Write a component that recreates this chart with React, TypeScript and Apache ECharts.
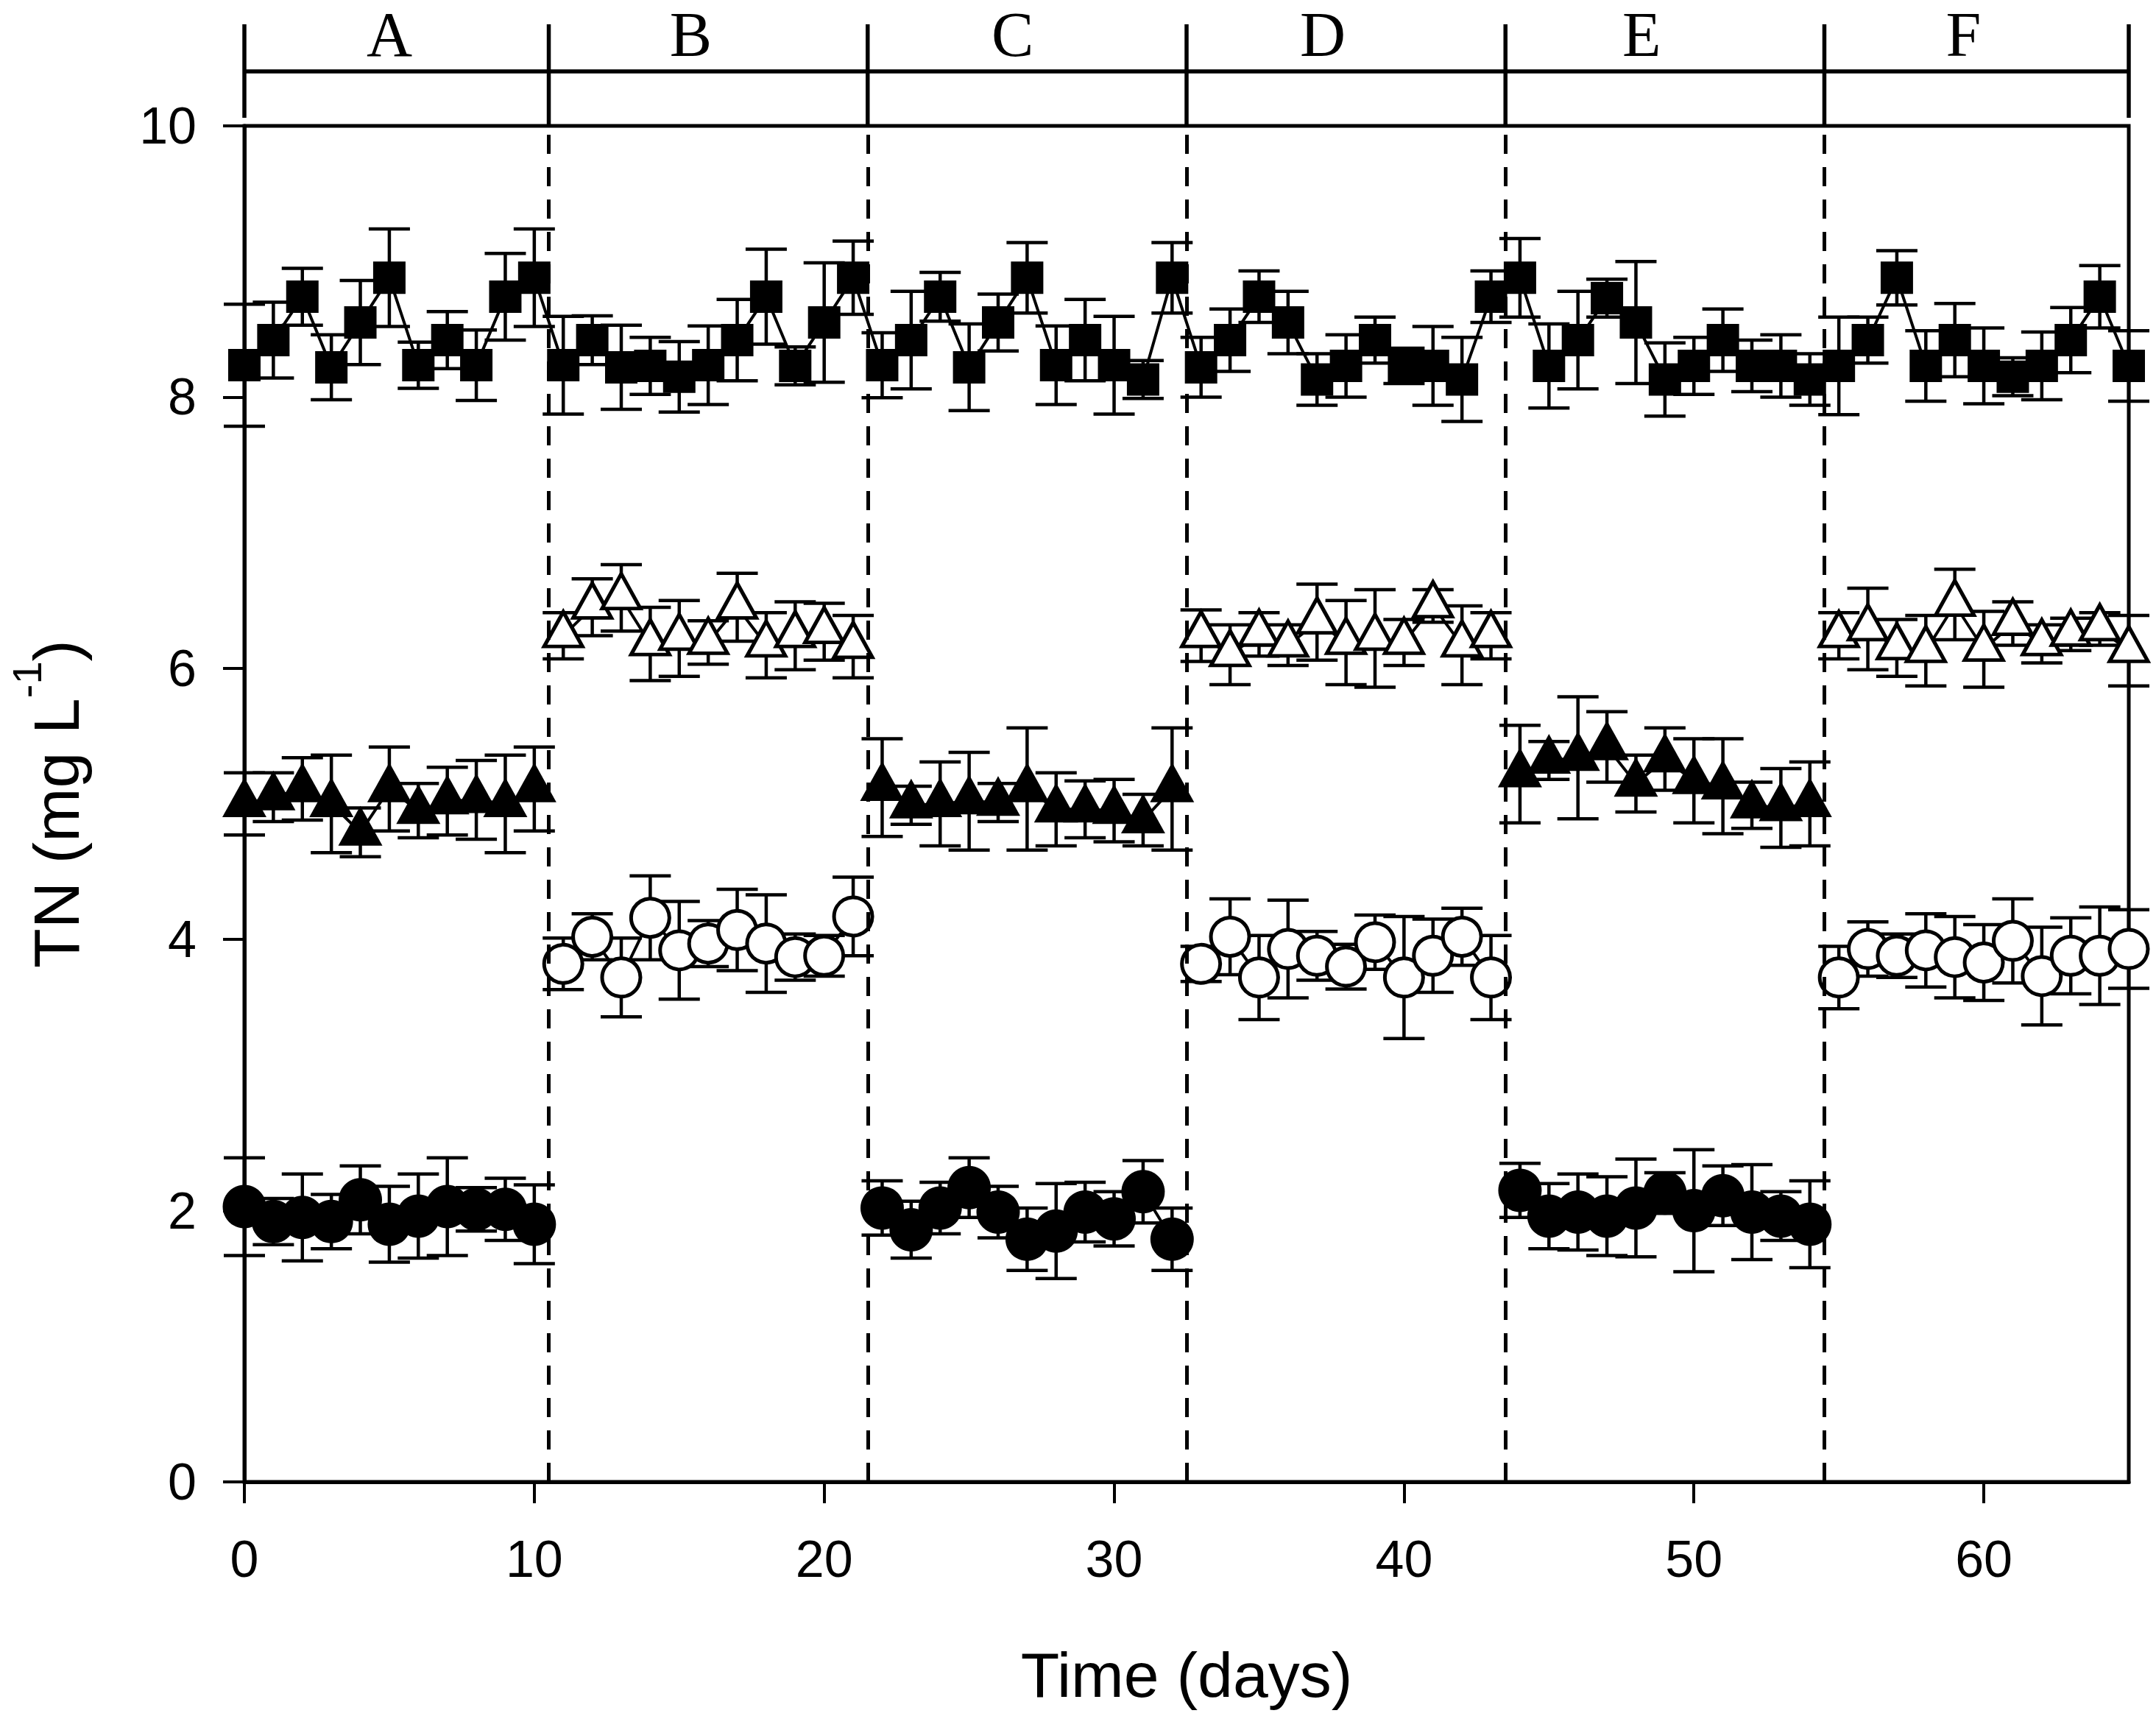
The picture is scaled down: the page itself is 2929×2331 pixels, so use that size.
import React, { useEffect, useRef } from "react";
import * as echarts from "echarts";

const FONT_SANS = "'Liberation Sans', Arial, Helvetica, sans-serif";
const FONT_SERIF = "'Liberation Serif', 'Times New Roman', Times, serif";

// axis / annotation definitions
const X_TICKS = [0, 10, 20, 30, 40, 50, 60];
const DIVIDERS = [10.5, 21.5, 32.5, 43.5, 54.5];
const PHASE_BOUNDS = [0, 10.5, 21.5, 32.5, 43.5, 54.5, 65];
const PHASE_LABELS = ["A", "B", "C", "D", "E", "F"];
const PHASE_LABEL_X = [5.0, 15.4, 26.5, 37.2, 48.2, 59.3];

const _ = null;

// index = day (0..65)
const squareMean = [
  8.235, 8.42, 8.74, 8.22, 8.55, 8.88, 8.235, 8.42, 8.235, 8.74, 8.88,
  8.235, 8.42, 8.22, 8.23, 8.15, 8.235, 8.42, 8.74, 8.23, 8.55, 8.88,
  8.235, 8.42, 8.74, 8.22, 8.55, 8.88, 8.235, 8.42, 8.235, 8.13, 8.88,
  8.22, 8.42, 8.74, 8.55, 8.13, 8.23, 8.42, 8.23, 8.23, 8.13, 8.74,
  8.88, 8.23, 8.42, 8.73, 8.55, 8.13, 8.23, 8.42, 8.23, 8.23, 8.13,
  8.23, 8.42, 8.88, 8.23, 8.42, 8.23, 8.15, 8.23, 8.42, 8.74, 8.23,
];
const squareErr = [
  0.45, 0.28, 0.21, 0.24, 0.31, 0.36, 0.17, 0.21, 0.26, 0.32, 0.36,
  0.36, 0.18, 0.31, 0.21, 0.26, 0.29, 0.3, 0.35, 0.14, 0.44, 0.27,
  0.24, 0.36, 0.18, 0.32, 0.21, 0.26, 0.29, 0.3, 0.36, 0.14, 0.26,
  0.22, 0.23, 0.19, 0.23, 0.19, 0.23, 0.17, 0.13, 0.29, 0.31, 0.19,
  0.29, 0.31, 0.36, 0.14, 0.45, 0.27, 0.21, 0.23, 0.19, 0.23, 0.19,
  0.36, 0.17, 0.2, 0.26, 0.27, 0.28, 0.14, 0.25, 0.24, 0.23, 0.26,
];

const openTriMean = [
  _, _, _, _, _, _, _, _, _, _, _,
  6.24, 6.45, 6.52, 6.18, 6.22, 6.19, 6.45, 6.17, 6.24, 6.27, 6.16,
  _, _, _, _, _, _, _, _, _, _, _,
  6.24, 6.1, 6.25, 6.17, 6.34, 6.19, 6.22, 6.19, 6.46, 6.17, 6.24,
  _, _, _, _, _, _, _, _, _, _, _,
  6.24, 6.29, 6.15, 6.13, 6.47, 6.14, 6.33, 6.18, 6.25, 6.29, 6.13,
];
const openTriErr = [
  _, _, _, _, _, _, _, _, _, _, _,
  0.17, 0.21, 0.245, 0.27, 0.28, 0.16, 0.25, 0.24, 0.25, 0.21, 0.23,
  _, _, _, _, _, _, _, _, _, _, _,
  0.19, 0.22, 0.16, 0.15, 0.28, 0.31, 0.36, 0.17, 0.12, 0.29, 0.17,
  _, _, _, _, _, _, _, _, _, _, _,
  0.17, 0.3, 0.21, 0.26, 0.26, 0.28, 0.16, 0.14, 0.12, 0.12, 0.26,
];

const filledTriMean = [
  5.0, 5.05, 5.11, 5.0, 4.79, 5.11, 4.95, 5.02, 5.03, 5.0, 5.11,
  _, _, _, _, _, _, _, _, _, _, _,
  5.12, 4.99, 5.0, 5.02, 5.01, 5.11, 4.96, 4.96, 4.95, 4.88, 5.11,
  _, _, _, _, _, _, _, _, _, _, _,
  5.22, 5.32, 5.34, 5.42, 5.15, 5.33, 5.17, 5.13, 4.99, 4.97, 5.0,
  _, _, _, _, _, _, _, _, _, _, _,
];
const filledTriErr = [
  0.23, 0.18, 0.23, 0.36, 0.18, 0.31, 0.2, 0.25, 0.29, 0.36, 0.31,
  _, _, _, _, _, _, _, _, _, _, _,
  0.36, 0.14, 0.31, 0.36, 0.14, 0.45, 0.27, 0.21, 0.23, 0.19, 0.45,
  _, _, _, _, _, _, _, _, _, _, _,
  0.36, 0.14, 0.45, 0.26, 0.21, 0.23, 0.31, 0.35, 0.17, 0.29, 0.31,
  _, _, _, _, _, _, _, _, _, _, _,
];

const openCircMean = [
  _, _, _, _, _, _, _, _, _, _, _,
  3.82, 4.02, 3.72, 4.16, 3.92, 3.97, 4.07, 3.97, 3.87, 3.88, 4.17,
  _, _, _, _, _, _, _, _, _, _, _,
  3.82, 4.02, 3.72, 3.93, 3.88, 3.8, 3.98, 3.72, 3.88, 4.02, 3.72,
  _, _, _, _, _, _, _, _, _, _, _,
  3.72, 3.93, 3.88, 3.92, 3.87, 3.83, 3.99, 3.73, 3.88, 3.88, 3.93,
];
const openCircErr = [
  _, _, _, _, _, _, _, _, _, _, _,
  0.19, 0.17, 0.29, 0.31, 0.36, 0.17, 0.3, 0.36, 0.17, 0.15, 0.29,
  _, _, _, _, _, _, _, _, _, _, _,
  0.13, 0.28, 0.31, 0.36, 0.18, 0.165, 0.2, 0.45, 0.27, 0.21, 0.31,
  _, _, _, _, _, _, _, _, _, _, _,
  0.23, 0.2, 0.16, 0.27, 0.3, 0.28, 0.31, 0.36, 0.28, 0.36, 0.29,
];

const filledCircMean = [
  2.03, 1.92, 1.95, 1.92, 2.08, 1.9, 1.96, 2.03, 2.01, 2.01, 1.9,
  _, _, _, _, _, _, _, _, _, _, _,
  2.02, 1.86, 2.02, 2.17, 1.99, 1.79, 1.85, 1.99, 1.94, 2.14, 1.79,
  _, _, _, _, _, _, _, _, _, _, _,
  2.15, 1.96, 1.99, 1.96, 2.02, 2.13, 2.0, 2.11, 1.99, 1.96, 1.9,
  _, _, _, _, _, _, _, _, _, _, _,
];
const filledCircErr = [
  0.36, 0.17, 0.32, 0.2, 0.25, 0.28, 0.31, 0.36, 0.16, 0.23, 0.29,
  _, _, _, _, _, _, _, _, _, _, _,
  0.2, 0.21, 0.19, 0.22, 0.19, 0.23, 0.35, 0.22, 0.2, 0.23, 0.23,
  _, _, _, _, _, _, _, _, _, _, _,
  0.2, 0.24, 0.28, 0.29, 0.36, 0.15, 0.45, 0.22, 0.35, 0.18, 0.32,
  _, _, _, _, _, _, _, _, _, _, _,
];

const GRID = { left: 323, top: 171, right: 37, bottom: 318 };

function lineData(mean: (number | null)[]) {
  return mean.map((v, i) => [i, v === null ? "-" : v]);
}
function errData(mean: (number | null)[], err: (number | null)[]) {
  const out: number[][] = [];
  mean.forEach((v, i) => {
    if (v !== null && err[i] !== null) out.push([i, v, err[i] as number]);
  });
  return out;
}

function errorBarItem(params: any, api: any) {
  const x = api.value(0);
  const y = api.value(1);
  const e = api.value(2);
  const top = api.coord([x, y + e]);
  const bot = api.coord([x, y - e]);
  const hw = 28;
  const style = { stroke: "#000", lineWidth: 4.5, fill: "none" };
  return {
    type: "group",
    children: [
      { type: "line", shape: { x1: top[0], y1: top[1], x2: bot[0], y2: bot[1] }, style },
      { type: "line", shape: { x1: top[0] - hw, y1: top[1], x2: top[0] + hw, y2: top[1] }, style },
      { type: "line", shape: { x1: bot[0] - hw, y1: bot[1], x2: bot[0] + hw, y2: bot[1] }, style },
    ],
  };
}

function errSeries(mean: (number | null)[], err: (number | null)[]) {
  return {
    type: "custom",
    renderItem: errorBarItem,
    data: errData(mean, err),
    encode: { x: 0, y: 1 },
    clip: false,
    silent: true,
    z: 2,
  };
}

function markerSeries(mean: (number | null)[], symbol: string, size: any, open: boolean, offset?: number[]) {
  return {
    type: "line",
    data: lineData(mean),
    connectNulls: false,
    symbol,
    symbolSize: size,
    symbolOffset: offset || [0, 0],
    showSymbol: true,
    showAllSymbol: true,
    clip: false,
    lineStyle: { color: "#000", width: 4 },
    itemStyle: open
      ? { color: "#fff", borderColor: "#000", borderWidth: 5 }
      : { color: "#000", borderColor: "#000", borderWidth: 0 },
    emphasis: { disabled: true },
    silent: true,
    z: 3,
  };
}

export default function App() {
  const ref = useRef<HTMLDivElement>(null);

  useEffect(() => {
    document.body.style.margin = "0";
    if (!ref.current) return;
    const chart = echarts.init(ref.current, undefined, { renderer: "svg" });

    const gridTop = GRID.top;

    const option: any = {
      animation: false,
      backgroundColor: "#fff",
      grid: {
        ...GRID,
        show: true,
        borderColor: "#000",
        borderWidth: 5,
        backgroundColor: "transparent",
      },
      xAxis: {
        type: "value",
        min: 0,
        max: 65,
        interval: 10,
        name: "Time (days)",
        nameLocation: "middle",
        nameGap: 219,
        nameTextStyle: { fontFamily: FONT_SANS, fontSize: 86, color: "#000" },
        axisLine: { show: true, onZero: false, lineStyle: { color: "#000", width: 5 } },
        axisTick: {
          show: true,
          inside: false,
          length: 29,
          lineStyle: { color: "#000", width: 4 },
          customValues: X_TICKS,
        },
        axisLabel: {
          fontFamily: FONT_SANS,
          fontSize: 70,
          color: "#000",
          margin: 70,
          customValues: X_TICKS,
        },
        splitLine: { show: false },
      },
      yAxis: {
        type: "value",
        min: 0,
        max: 10,
        interval: 2,
        name: "TN (mg L{sup|-1})",
        nameLocation: "middle",
        nameGap: 188,
        nameRotate: 90,
        nameTextStyle: {
          fontFamily: FONT_SANS,
          fontSize: 88,
          lineHeight: 136,
          color: "#000",
          rich: {
            sup: { fontFamily: FONT_SANS, fontSize: 56, lineHeight: 68, verticalAlign: "top", color: "#000" },
          },
        },
        axisLine: { show: true, onZero: false, lineStyle: { color: "#000", width: 5 } },
        axisTick: { show: true, inside: false, length: 29, lineStyle: { color: "#000", width: 4 } },
        axisLabel: { fontFamily: FONT_SANS, fontSize: 70, color: "#000", margin: 65 },
        splitLine: { show: false },
      },
      series: [
        // phase dividers
        {
          type: "line",
          data: [],
          silent: true,
          z: 1,
          markLine: {
            silent: true,
            symbol: ["none", "none"],
            label: { show: false },
            lineStyle: { color: "#000", width: 5, type: [26, 18] },
            emphasis: { disabled: true },
            data: DIVIDERS.map((x) => ({ xAxis: x })),
          },
        },
        // phase bracket above the plot
        {
          type: "custom",
          clip: false,
          silent: true,
          data: PHASE_BOUNDS.map((b) => [b, 10]),
          encode: { x: 0, y: 1 },
          renderItem: (params: any, api: any) => {
            const p = api.coord([api.value(0), 10]);
            const last = PHASE_BOUNDS.length - 1;
            const isEnd = params.dataIndex === 0 || params.dataIndex === last;
            const style = { stroke: "#000", lineWidth: 5.5 };
            const children: any[] = [
              {
                type: "line",
                shape: { x1: p[0], y1: gridTop - 138, x2: p[0], y2: isEnd ? gridTop - 11 : gridTop },
                style,
              },
            ];
            if (params.dataIndex === 0) {
              const a = api.coord([PHASE_BOUNDS[0], 10]);
              const b = api.coord([PHASE_BOUNDS[last], 10]);
              children.push({
                type: "line",
                shape: { x1: a[0], y1: gridTop - 74, x2: b[0], y2: gridTop - 74 },
                style,
              });
            }
            return { type: "group", children };
          },
          z: 4,
        },
        // phase labels
        {
          type: "custom",
          clip: false,
          silent: true,
          data: PHASE_LABEL_X.map((x) => [x, 10]),
          encode: { x: 0, y: 1 },
          renderItem: (params: any, api: any) => {
            const p = api.coord([api.value(0), 10]);
            return {
              type: "text",
              x: p[0],
              y: gridTop - 124,
              style: {
                text: PHASE_LABELS[params.dataIndex],
                fontFamily: FONT_SERIF,
                fontSize: 86,
                lineHeight: 80,
                fill: "#000",
                align: "center",
                verticalAlign: "middle",
              },
            };
          },
          z: 4,
        },
        // error bars
        errSeries(squareMean, squareErr),
        errSeries(openTriMean, openTriErr),
        errSeries(filledTriMean, filledTriErr),
        errSeries(openCircMean, openCircErr),
        errSeries(filledCircMean, filledCircErr),
        // markers + connecting lines
        markerSeries(squareMean, "rect", 44, false),
        markerSeries(openTriMean, "triangle", [52, 47], true, [0, -9]),
        markerSeries(filledTriMean, "triangle", [60, 54], false, [0, -9]),
        markerSeries(openCircMean, "circle", 52, true),
        markerSeries(filledCircMean, "circle", 59, false),
      ],
    };

    chart.setOption(option);
    return () => {
      chart.dispose();
    };
  }, []);

  return <div ref={ref} style={{ width: 2929, height: 2331, background: "#fff" }} />;
}
